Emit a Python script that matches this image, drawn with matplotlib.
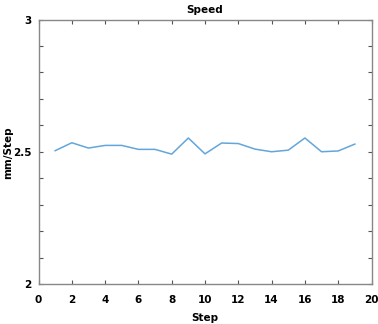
import matplotlib
matplotlib.use("Agg")
import matplotlib.pyplot as plt
from matplotlib.ticker import MultipleLocator

steps = list(range(1, 20))
speed = [2.504, 2.534, 2.514, 2.524, 2.524, 2.509, 2.509, 2.491, 2.552, 2.492,
         2.533, 2.531, 2.510, 2.500, 2.506, 2.552, 2.500, 2.503, 2.529]
xticks = [0, 2, 4, 6, 8, 10, 12, 14, 16, 18, 20]
yticks = [2, 2.5, 3]

fig = plt.figure(figsize=(3.78, 3.24), dpi=100)
ax = fig.add_axes([38.5/378, 1 - 284/324, (371.5-38.5)/378, (284-19.5)/324])
ax.plot(steps, speed, color="#62a6dc", lw=1.1)
ax.set_xlim(0, 20)
ax.set_ylim(2, 3)
ax.set_xticks(xticks)
ax.set_xticklabels([str(t) for t in xticks])
ax.set_yticks(yticks)
ax.set_yticklabels(["2", "2.5", "3"])
ax.yaxis.set_minor_locator(MultipleLocator(0.1))
ax.tick_params(which="both", direction="in", top=True, right=True, colors="#555555",
               labelcolor="black", labelsize=7.5, length=3, width=0.8)
ax.tick_params(axis="x", pad=8)
ax.tick_params(axis="y", pad=5)
for lab in ax.get_xticklabels() + ax.get_yticklabels():
    lab.set_fontweight("bold")
for s in ax.spines.values():
    s.set_color("#888888")
    s.set_linewidth(1.0)
ax.set_title("Speed", fontsize=7.5, fontweight="bold", pad=5)
ax.set_xlabel("Step", fontsize=7.5, fontweight="bold", labelpad=6)
fig.text(8/378, 1 - 153/324, "mm/Step", rotation=90, ha="center", va="center",
         fontsize=7.5, fontweight="bold")
fig.savefig("out.png", dpi=100)
